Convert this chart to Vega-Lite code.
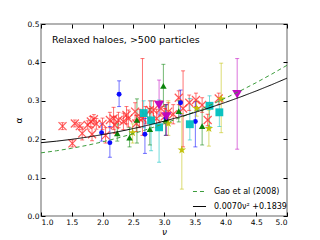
{
 "$schema": "https://vega.github.io/schema/vega-lite/v6.json",
 "width": 246, "height": 192,
 "autosize": {"type": "none"},
 "padding": {"left": 41, "top": 24, "right": 33, "bottom": 24},
 "background": "white",
 "config": {
  "font": "DejaVu Sans",
  "view": {"stroke": "#999999", "strokeWidth": 1.5},
  "axis": {"grid": false, "domain": false, "tickSize": -4, "tickColor": "#000000", "labelFontSize": 7.5, "labelColor": "#000000", "titleFontSize": 9, "titleFontWeight": "normal", "titleColor": "#000000", "labelFont": "DejaVu Sans", "titleFont": "DejaVu Sans"},
  "legend": {"labelFont": "DejaVu Sans", "labelFontSize": 8, "labelColor": "#000000"}
 },
 "datasets": {
  "pts": [
   {"s": "x", "nu": 1.35, "a": 0.234, "lo": 0.225, "hi": 0.243},
   {"s": "x", "nu": 1.51, "a": 0.189, "lo": 0.18, "hi": 0.198},
   {"s": "x", "nu": 1.55, "a": 0.241, "lo": 0.232, "hi": 0.25},
   {"s": "x", "nu": 1.63, "a": 0.234, "lo": 0.225, "hi": 0.243},
   {"s": "x", "nu": 1.67, "a": 0.215, "lo": 0.198, "hi": 0.232},
   {"s": "x", "nu": 1.76, "a": 0.237, "lo": 0.226, "hi": 0.248},
   {"s": "x", "nu": 1.81, "a": 0.246, "lo": 0.233, "hi": 0.259},
   {"s": "x", "nu": 1.83, "a": 0.213, "lo": 0.196, "hi": 0.23},
   {"s": "x", "nu": 1.86, "a": 0.252, "lo": 0.24, "hi": 0.264},
   {"s": "x", "nu": 1.9, "a": 0.24, "lo": 0.226, "hi": 0.254},
   {"s": "x", "nu": 2.0, "a": 0.24, "lo": 0.225, "hi": 0.255},
   {"s": "x", "nu": 2.05, "a": 0.21, "lo": 0.19, "hi": 0.23},
   {"s": "x", "nu": 2.12, "a": 0.25, "lo": 0.23, "hi": 0.27},
   {"s": "x", "nu": 2.18, "a": 0.254, "lo": 0.225, "hi": 0.283},
   {"s": "x", "nu": 2.2, "a": 0.237, "lo": 0.215, "hi": 0.26},
   {"s": "x", "nu": 2.26, "a": 0.25, "lo": 0.23, "hi": 0.27},
   {"s": "x", "nu": 2.34, "a": 0.246, "lo": 0.225, "hi": 0.268},
   {"s": "x", "nu": 2.39, "a": 0.263, "lo": 0.24, "hi": 0.285},
   {"s": "x", "nu": 2.42, "a": 0.254, "lo": 0.232, "hi": 0.276},
   {"s": "x", "nu": 2.53, "a": 0.272, "lo": 0.25, "hi": 0.295},
   {"s": "x", "nu": 2.55, "a": 0.241, "lo": 0.22, "hi": 0.262},
   {"s": "x", "nu": 2.6, "a": 0.254, "lo": 0.23, "hi": 0.278},
   {"s": "x", "nu": 2.65, "a": 0.254, "lo": 0.21, "hi": 0.41},
   {"s": "x", "nu": 2.7, "a": 0.262, "lo": 0.24, "hi": 0.285},
   {"s": "x", "nu": 2.77, "a": 0.276, "lo": 0.25, "hi": 0.3},
   {"s": "x", "nu": 2.83, "a": 0.276, "lo": 0.25, "hi": 0.3},
   {"s": "x", "nu": 2.88, "a": 0.254, "lo": 0.23, "hi": 0.278},
   {"s": "x", "nu": 2.95, "a": 0.28, "lo": 0.26, "hi": 0.3},
   {"s": "x", "nu": 3.01, "a": 0.259, "lo": 0.24, "hi": 0.28},
   {"s": "x", "nu": 3.07, "a": 0.272, "lo": 0.25, "hi": 0.295},
   {"s": "x", "nu": 3.15, "a": 0.265, "lo": 0.24, "hi": 0.29},
   {"s": "x", "nu": 3.24, "a": 0.308, "lo": 0.29, "hi": 0.326},
   {"s": "x", "nu": 3.31, "a": 0.28, "lo": 0.18, "hi": 0.378},
   {"s": "x", "nu": 3.41, "a": 0.295, "lo": 0.275, "hi": 0.315},
   {"s": "x", "nu": 3.52, "a": 0.302, "lo": 0.285, "hi": 0.32},
   {"s": "x", "nu": 3.62, "a": 0.289, "lo": 0.27, "hi": 0.308},
   {"s": "x", "nu": 3.71, "a": 0.25, "lo": 0.235, "hi": 0.265},
   {"s": "x", "nu": 3.89, "a": 0.306, "lo": 0.29, "hi": 0.32},
   {"s": "blue", "nu": 1.985, "a": 0.217, "lo": 0.195, "hi": 0.24},
   {"s": "blue", "nu": 2.12, "a": 0.191, "lo": 0.153, "hi": 0.233},
   {"s": "blue", "nu": 2.27, "a": 0.317, "lo": 0.285, "hi": 0.352},
   {"s": "blue", "nu": 2.69, "a": 0.213, "lo": 0.163, "hi": 0.254},
   {"s": "blue", "nu": 3.03, "a": 0.254, "lo": 0.21, "hi": 0.29},
   {"s": "blue", "nu": 3.27, "a": 0.295, "lo": 0.263, "hi": 0.328},
   {"s": "blue", "nu": 3.51, "a": 0.246, "lo": 0.18, "hi": 0.298},
   {"s": "green", "nu": 2.24, "a": 0.215, "lo": 0.195, "hi": 0.24},
   {"s": "green", "nu": 2.44, "a": 0.204, "lo": 0.18, "hi": 0.23},
   {"s": "green", "nu": 2.56, "a": 0.25, "lo": 0.19, "hi": 0.305},
   {"s": "green", "nu": 2.77, "a": 0.226, "lo": 0.185, "hi": 0.28},
   {"s": "green", "nu": 2.99, "a": 0.339, "lo": 0.285, "hi": 0.395},
   {"s": "green", "nu": 3.03, "a": 0.25, "lo": 0.21, "hi": 0.29},
   {"s": "green", "nu": 3.24, "a": 0.273, "lo": 0.245, "hi": 0.3},
   {"s": "green", "nu": 3.62, "a": 0.234, "lo": 0.185, "hi": 0.276},
   {"s": "cyan", "nu": 2.67, "a": 0.268, "lo": 0.23, "hi": 0.3},
   {"s": "cyan", "nu": 2.79, "a": 0.249, "lo": 0.17, "hi": 0.3},
   {"s": "cyan", "nu": 2.92, "a": 0.231, "lo": 0.14, "hi": 0.302},
   {"s": "cyan", "nu": 3.42, "a": 0.239, "lo": 0.198, "hi": 0.306},
   {"s": "cyan", "nu": 3.74, "a": 0.287, "lo": 0.233, "hi": 0.313},
   {"s": "cyan", "nu": 3.9, "a": 0.27, "lo": 0.233, "hi": 0.302},
   {"s": "yellow", "nu": 2.49, "a": 0.217, "lo": 0.19, "hi": 0.24},
   {"s": "yellow", "nu": 3.07, "a": 0.241, "lo": 0.21, "hi": 0.3},
   {"s": "yellow", "nu": 3.29, "a": 0.172, "lo": 0.07, "hi": 0.267},
   {"s": "yellow", "nu": 3.53, "a": 0.28, "lo": 0.26, "hi": 0.3},
   {"s": "yellow", "nu": 3.73, "a": 0.228, "lo": 0.182, "hi": 0.276},
   {"s": "yellow", "nu": 3.93, "a": 0.305, "lo": 0.217, "hi": 0.398},
   {"s": "magenta", "nu": 2.92, "a": 0.289, "lo": 0.263, "hi": 0.354},
   {"s": "magenta", "nu": 3.04, "a": 0.259, "lo": 0.21, "hi": 0.29},
   {"s": "magenta", "nu": 4.19, "a": 0.317, "lo": 0.174, "hi": 0.41}
  ],
  "curves": [
   {"name": "Gao et al (2008)", "nu": 1.0, "a": 0.1645},
   {"name": "Gao et al (2008)", "nu": 1.25, "a": 0.16984},
   {"name": "Gao et al (2008)", "nu": 1.5, "a": 0.17638},
   {"name": "Gao et al (2008)", "nu": 1.75, "a": 0.18409},
   {"name": "Gao et al (2008)", "nu": 2.0, "a": 0.193},
   {"name": "Gao et al (2008)", "nu": 2.25, "a": 0.20309},
   {"name": "Gao et al (2008)", "nu": 2.5, "a": 0.21438},
   {"name": "Gao et al (2008)", "nu": 2.75, "a": 0.22684},
   {"name": "Gao et al (2008)", "nu": 3.0, "a": 0.2405},
   {"name": "Gao et al (2008)", "nu": 3.25, "a": 0.25534},
   {"name": "Gao et al (2008)", "nu": 3.5, "a": 0.27138},
   {"name": "Gao et al (2008)", "nu": 3.75, "a": 0.28859},
   {"name": "Gao et al (2008)", "nu": 4.0, "a": 0.307},
   {"name": "Gao et al (2008)", "nu": 4.25, "a": 0.32659},
   {"name": "Gao et al (2008)", "nu": 4.5, "a": 0.34738},
   {"name": "Gao et al (2008)", "nu": 4.75, "a": 0.36934},
   {"name": "Gao et al (2008)", "nu": 5.0, "a": 0.3925},
   {"name": "0.0070ν² +0.1839", "nu": 1.0, "a": 0.1909},
   {"name": "0.0070ν² +0.1839", "nu": 1.25, "a": 0.19484},
   {"name": "0.0070ν² +0.1839", "nu": 1.5, "a": 0.19965},
   {"name": "0.0070ν² +0.1839", "nu": 1.75, "a": 0.20534},
   {"name": "0.0070ν² +0.1839", "nu": 2.0, "a": 0.2119},
   {"name": "0.0070ν² +0.1839", "nu": 2.25, "a": 0.21934},
   {"name": "0.0070ν² +0.1839", "nu": 2.5, "a": 0.22765},
   {"name": "0.0070ν² +0.1839", "nu": 2.75, "a": 0.23684},
   {"name": "0.0070ν² +0.1839", "nu": 3.0, "a": 0.2469},
   {"name": "0.0070ν² +0.1839", "nu": 3.25, "a": 0.25784},
   {"name": "0.0070ν² +0.1839", "nu": 3.5, "a": 0.26965},
   {"name": "0.0070ν² +0.1839", "nu": 3.75, "a": 0.28234},
   {"name": "0.0070ν² +0.1839", "nu": 4.0, "a": 0.2959},
   {"name": "0.0070ν² +0.1839", "nu": 4.25, "a": 0.31034},
   {"name": "0.0070ν² +0.1839", "nu": 4.5, "a": 0.32565},
   {"name": "0.0070ν² +0.1839", "nu": 4.75, "a": 0.34184},
   {"name": "0.0070ν² +0.1839", "nu": 5.0, "a": 0.3589}
  ],
  "label": [{"nu": 1.18, "a": 0.458, "text": "Relaxed haloes, >500 particles"}]
 },
 "layer": [
  {
   "data": {"name": "pts"},
   "mark": {"type": "rule", "strokeWidth": 1, "opacity": 0.55},
   "encoding": {
    "x": {"field": "nu", "type": "quantitative", "scale": {"domain": [1, 5], "nice": false, "zero": false},
      "axis": {"orient": "bottom", "values": [1, 1.5, 2, 2.5, 3, 3.5, 4, 4.5, 5], "format": ".1f", "title": "ν", "labelPadding": 6, "titlePadding": 2, "titleFontStyle": "italic"}},
    "y": {"field": "lo", "type": "quantitative", "scale": {"domain": [0, 0.5], "nice": false, "zero": false},
      "axis": {"orient": "left", "values": [0, 0.1, 0.2, 0.3, 0.4, 0.5], "format": ".1f", "title": "α", "labelPadding": 6, "titlePadding": 4}},
    "y2": {"field": "hi"},
    "color": {"field": "s", "type": "nominal", "legend": null,
      "scale": {"domain": ["x", "blue", "green", "cyan", "yellow", "magenta"], "range": ["#ff0000", "#0000ff", "#008000", "#00bfbf", "#bfbf00", "#bf00bf"]}}
   }
  },
  {
   "data": {"name": "pts"},
   "mark": {"type": "tick", "orient": "horizontal", "size": 4, "thickness": 1, "opacity": 0.55},
   "encoding": {
    "x": {"field": "nu", "type": "quantitative", "axis": null},
    "y": {"field": "lo", "type": "quantitative", "axis": null},
    "color": {"field": "s", "type": "nominal", "legend": null,
      "scale": {"domain": ["x", "blue", "green", "cyan", "yellow", "magenta"], "range": ["#ff0000", "#0000ff", "#008000", "#00bfbf", "#bfbf00", "#bf00bf"]}}
   }
  },
  {
   "data": {"name": "pts"},
   "mark": {"type": "tick", "orient": "horizontal", "size": 4, "thickness": 1, "opacity": 0.55},
   "encoding": {
    "x": {"field": "nu", "type": "quantitative", "axis": null},
    "y": {"field": "hi", "type": "quantitative", "axis": null},
    "color": {"field": "s", "type": "nominal", "legend": null,
      "scale": {"domain": ["x", "blue", "green", "cyan", "yellow", "magenta"], "range": ["#ff0000", "#0000ff", "#008000", "#00bfbf", "#bfbf00", "#bf00bf"]}}
   }
  },
  {
   "data": {"name": "pts"},
   "transform": [{"filter": "datum.s == 'x'"}],
   "mark": {"type": "point", "shape": "M-1,-1L1,1M1,-1L-1,1", "filled": false, "size": 64, "strokeWidth": 1.2, "color": "#ff3030", "opacity": 0.8},
   "encoding": {
    "x": {"field": "nu", "type": "quantitative", "axis": null},
    "y": {"field": "a", "type": "quantitative", "axis": null}
   }
  },
  {
   "data": {"name": "pts"},
   "transform": [{"filter": "datum.s != 'x'"}],
   "mark": {"type": "point", "filled": true, "opacity": 0.95},
   "encoding": {
    "x": {"field": "nu", "type": "quantitative", "axis": null},
    "y": {"field": "a", "type": "quantitative", "axis": null},
    "color": {"field": "s", "type": "nominal", "legend": null,
      "scale": {"domain": ["blue", "green", "cyan", "yellow", "magenta"], "range": ["#0000ff", "#008000", "#00bfbf", "#bfbf00", "#bf00bf"]}},
    "shape": {"field": "s", "type": "nominal", "legend": null,
      "scale": {"domain": ["blue", "green", "cyan", "yellow", "magenta"], "range": ["circle", "triangle-up", "square", "M0,-1L0.2245,-0.309L0.9511,-0.309L0.3633,0.118L0.5878,0.809L0,0.382L-0.5878,0.809L-0.3633,0.118L-0.9511,-0.309L-0.2245,-0.309Z", "triangle-down"]}},
    "size": {"field": "s", "type": "nominal", "legend": null,
      "scale": {"domain": ["blue", "green", "cyan", "yellow", "magenta"], "range": [24, 100, 78, 140, 100]}}
   }
  },
  {
   "data": {"name": "curves"},
   "mark": {"type": "line", "strokeWidth": 1},
   "encoding": {
    "x": {"field": "nu", "type": "quantitative", "axis": {"orient": "top", "values": [1, 1.5, 2, 2.5, 3, 3.5, 4, 4.5, 5], "labels": false, "title": null}},
    "y": {"field": "a", "type": "quantitative", "axis": {"orient": "right", "values": [0, 0.1, 0.2, 0.3, 0.4, 0.5], "labels": false, "title": null}},
    "color": {"field": "name", "type": "nominal",
      "scale": {"domain": ["Gao et al (2008)", "0.0070ν² +0.1839"], "range": ["#3c9c3c", "#000000"]},
      "legend": {"orient": "none", "legendX": 151, "legendY": 160, "title": null, "symbolType": "stroke", "symbolSize": 170, "symbolStrokeWidth": 1, "rowPadding": 3, "labelOffset": 7, "padding": 0}},
    "strokeDash": {"field": "name", "type": "nominal",
      "scale": {"domain": ["Gao et al (2008)", "0.0070ν² +0.1839"], "range": [[4, 3], [1, 0]]},
      "legend": {"orient": "none", "legendX": 151, "legendY": 160, "title": null, "symbolType": "stroke", "symbolSize": 170, "symbolStrokeWidth": 1, "rowPadding": 3, "labelOffset": 7, "padding": 0}}
   }
  },
  {
   "data": {"name": "label"},
   "mark": {"type": "text", "align": "left", "baseline": "middle", "font": "DejaVu Sans", "fontSize": 9.5, "color": "#000000"},
   "encoding": {
    "x": {"field": "nu", "type": "quantitative", "axis": null},
    "y": {"field": "a", "type": "quantitative", "axis": null},
    "text": {"field": "text"}
   }
  }
 ],
 "resolve": {"scale": {"color": "independent", "shape": "independent", "size": "independent", "strokeDash": "independent"}, "axis": {"x": "independent", "y": "independent"}}
}
